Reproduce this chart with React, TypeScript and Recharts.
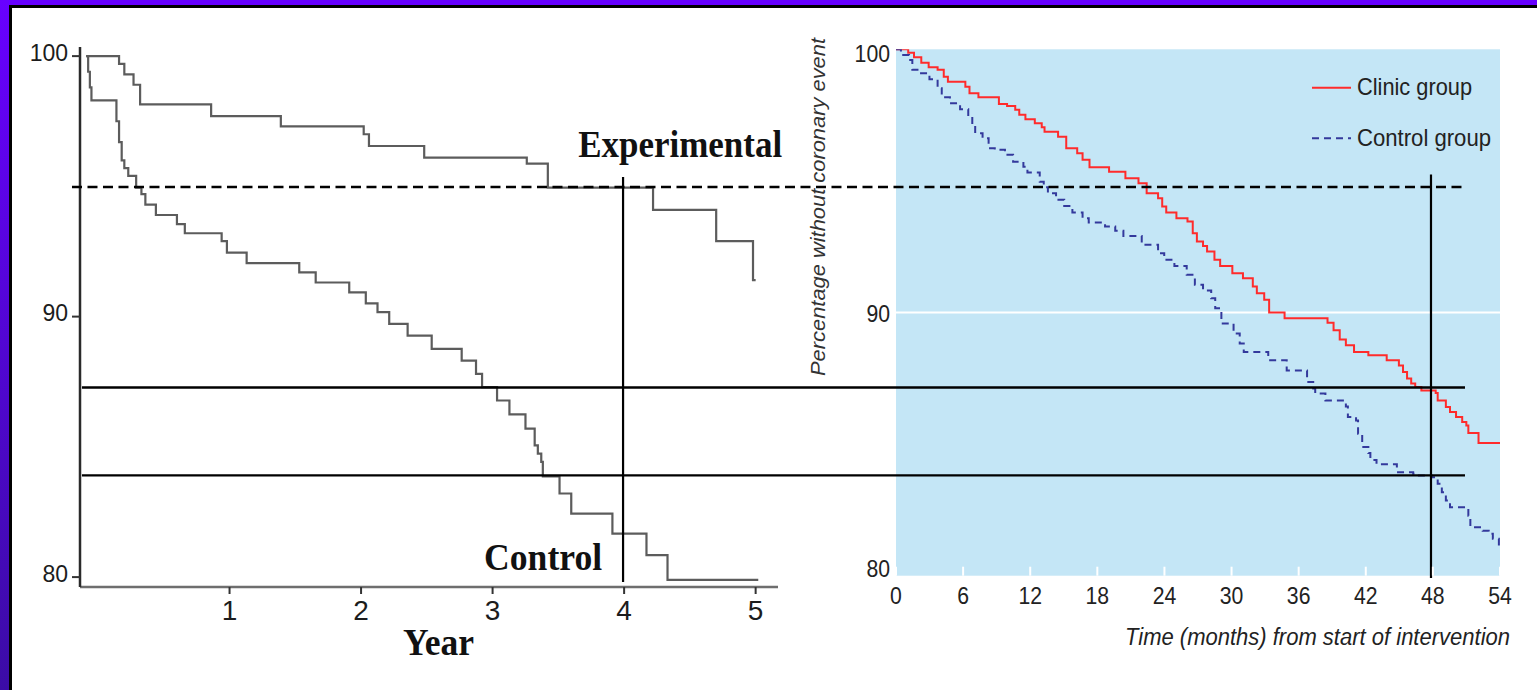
import React from 'react';
import { LineChart, Line, XAxis, YAxis, CartesianGrid, ReferenceLine, ReferenceDot, Legend, Label } from 'recharts';

const W = 1537;
const H = 690;
const SANS = '"Liberation Sans", Arial, Helvetica, sans-serif';
const SERIF = '"Liberation Serif", "Times New Roman", serif';

// ---------- Left panel: survival by year ----------
const expYears = [-0.09, 0.16, 0.2, 0.27, 0.32, 0.86, 1.39, 2.02, 2.06, 2.48, 3.26, 3.42, 4.22, 4.7, 4.98, 5.0];
const expValues = [100, 99.7, 99.3, 98.9, 98.15, 97.7, 97.3, 97.0, 96.55, 96.1, 95.87, 94.95, 94.1, 92.9, 91.4, 91.4];

const ctrlYears = [-0.09, -0.075, -0.062, -0.05, 0.14, 0.16, 0.18, 0.2, 0.23, 0.29, 0.33, 0.36, 0.44, 0.6, 0.66, 0.94, 0.98, 1.13, 1.53, 1.655, 1.91, 2.036, 2.125, 2.214, 2.354, 2.537, 2.765, 2.874, 2.92, 3.034, 3.128, 3.25, 3.32, 3.344, 3.37, 3.382, 3.509, 3.598, 3.911, 4.17, 4.33, 5.02];
const ctrlValues = [100, 99.4, 98.8, 98.3, 97.5, 96.7, 96.0, 95.7, 95.4, 94.95, 94.7, 94.3, 93.9, 93.55, 93.2, 92.9, 92.46, 92.05, 91.7, 91.31, 90.93, 90.51, 90.17, 89.72, 89.27, 88.76, 88.31, 87.8, 87.29, 86.78, 86.25, 85.7, 85.06, 84.74, 84.42, 83.87, 83.21, 82.44, 81.67, 80.84, 79.89, 79.89];

const yearTicks = [1, 2, 3, 4, 5];
const leftPctTicks = [80, 90, 100];
const leftYearDomain = [-0.137, 5.17];
const leftPctDomain = [79.62, 100.35];
const leftMarkYear = 3.992;
const leftMarkRange = [95.36, 79.81];
const expLabelPos = { x: 4.426, y: 96.12 };
const ctrlLabelPos = { x: 3.384, y: 80.27 };

// ---------- Right panel: survival by month ----------
const clinicMonths = [0, 1.09, 1.61, 2.26, 2.92, 3.72, 4.27, 4.64, 6.2, 6.57, 7.37, 9.2, 9.93, 10.66, 11.02, 11.57, 12.41, 13.03, 13.28, 14.49, 15.22, 16.2, 16.68, 17.3, 19.05, 20.51, 21.68, 22.41, 23.43, 23.8, 24.16, 25.07, 26.06, 26.53, 26.9, 27.45, 27.81, 28.47, 28.98, 30.07, 31.02, 31.9, 32.26, 32.92, 33.36, 34.74, 38.58, 39.12, 39.67, 40.22, 40.95, 42.23, 43.87, 44.96, 45.33, 45.69, 46.06, 46.42, 46.97, 48.25, 48.43, 49.16, 49.53, 50.07, 50.62, 50.99, 51.17, 52.08, 54];
const clinicValues = [100, 99.87, 99.7, 99.49, 99.32, 99.22, 98.96, 98.77, 98.58, 98.33, 98.18, 97.92, 97.85, 97.7, 97.51, 97.34, 97.19, 97.04, 96.87, 96.68, 96.24, 96.05, 95.8, 95.52, 95.35, 95.1, 94.91, 94.53, 94.34, 94.03, 93.8, 93.58, 93.46, 93.01, 92.7, 92.53, 92.32, 92.0, 91.77, 91.49, 91.3, 90.99, 90.73, 90.48, 90.0, 89.78, 89.61, 89.33, 88.97, 88.76, 88.5, 88.38, 88.19, 87.99, 87.74, 87.49, 87.3, 87.17, 87.04, 86.94, 86.66, 86.41, 86.22, 86.03, 85.84, 85.71, 85.42, 85.04, 85.04];

const controlMonths = [0, 0.44, 1.17, 1.46, 2.08, 2.99, 3.72, 4.09, 4.82, 5.73, 6.46, 6.82, 7.08, 7.74, 8.28, 8.83, 9.74, 10.47, 11.39, 11.75, 12.85, 13.21, 13.58, 14.31, 15.04, 15.77, 16.68, 17.23, 18.69, 19.6, 20.33, 21.97, 23.43, 23.98, 24.89, 25.99, 26.72, 27.45, 28.18, 28.54, 29.09, 30.18, 30.73, 31.09, 33.28, 34.93, 36.75, 37.3, 37.48, 38.39, 40.22, 40.4, 41.13, 41.31, 41.68, 42.23, 42.41, 42.96, 44.78, 46.24, 46.42, 47.88, 48.43, 48.8, 49.16, 49.53, 51.17, 51.35, 52.45, 52.99, 53.36, 53.9, 54];
const controlValues = [100, 99.78, 99.59, 99.22, 99.09, 98.86, 98.52, 98.18, 97.95, 97.72, 97.44, 97.13, 96.81, 96.62, 96.24, 96.18, 95.99, 95.73, 95.54, 95.32, 94.97, 94.76, 94.53, 94.28, 94.05, 93.8, 93.58, 93.42, 93.27, 93.11, 92.91, 92.57, 92.25, 92.0, 91.77, 91.43, 91.05, 90.84, 90.54, 90.16, 89.58, 89.2, 88.82, 88.5, 88.19, 87.8, 87.36, 87.11, 86.92, 86.66, 86.43, 86.03, 85.9, 85.39, 84.89, 84.66, 84.4, 84.23, 83.93, 83.87, 83.81, 83.74, 83.49, 83.17, 82.86, 82.6, 82.28, 81.84, 81.71, 81.59, 81.4, 81.14, 81.14];

const monthTicks = [0, 6, 12, 18, 24, 30, 36, 42, 48, 54];
const rightPctTicks = [80, 90, 100];
const rightMonthDomain = [0, 54];
const rightPctDomain = [80, 100];

// Overlay comparison lines (in right-panel data units)
const dashedLevel = 94.77;
const dashedSpan = [-73.67, 50.69];
const solidLevels = [87.15, 83.81];
const solidSpan = [-72.78, 50.87];
const rightMarkMonth = 47.83;
const rightMarkRange = [95.24, 79.91];

const zip = (xs: number[], ys: number[]) => xs.map((t, i) => ({ t, v: ys[i] }));
const expData = zip(expYears, expValues);
const ctrlData = zip(ctrlYears, ctrlValues);
const clinicData = zip(clinicMonths, clinicValues);
const controlData = zip(controlMonths, controlValues);

// ---------- tick / label renderers ----------
const LeftXTick = (p: any) => (
  <text x={p.x} y={p.y + 20} textAnchor="middle" fontFamily={SANS} fontSize={28} fill="#1c1c1c">
    {p.payload.value}
  </text>
);

const LeftYTick = (p: any) => (
  <text x={p.x} y={p.y + 4.5} textAnchor="end" fontFamily={SANS} fontSize={23} fill="#1c1c1c">
    {p.payload.value}
  </text>
);

const RightXTick = (p: any) => {
  const s = String(p.payload.value);
  return (
    <g>
      <line x1={p.x} x2={p.x} y1={p.y - 9} y2={p.y} stroke="#ffffff" strokeWidth={2} />
      <text x={p.x} y={p.y + 28.5} textAnchor="middle" fontFamily={SANS} fontSize={23} fill="#222"
        textLength={s.length * 11.8} lengthAdjust="spacingAndGlyphs">{s}</text>
    </g>
  );
};

const RY_DY: Record<number, number> = { 100: 12.4, 90: 9, 80: 1 };
const RightYTick = (p: any) => {
  const s = String(p.payload.value);
  return (
    <text x={p.x} y={p.y + (RY_DY[p.payload.value] ?? 8)} textAnchor="end" fontFamily={SANS} fontSize={23} fill="#222"
      textLength={s.length * 11.8} lengthAdjust="spacingAndGlyphs">{s}</text>
  );
};

const YearLabel = (p: any) => {
  const vb = p.viewBox;
  return (
    <text x={vb.x + 323} y={vb.y + 68} fontFamily={SERIF} fontWeight="bold" fontSize={38} fill="#111"
      textLength={71} lengthAdjust="spacingAndGlyphs">Year</text>
  );
};

const seriesText = (text: string, len: number) => (p: any) => {
  const vb = p.viewBox;
  const cx = vb.x + (vb.width || 0) / 2;
  const cy = vb.y + (vb.height || 0) / 2;
  return (
    <text x={cx} y={cy} textAnchor="middle" fontFamily={SERIF} fontWeight="bold" fontSize={38} fill="#111"
      textLength={len} lengthAdjust="spacingAndGlyphs">{text}</text>
  );
};

const RightXLabel = (p: any) => {
  const vb = p.viewBox;
  return (
    <text x={vb.x + vb.width + 10} y={vb.y + 69.3} textAnchor="end" fontFamily={SANS} fontStyle="italic" fontSize={23}
      fill="#222" textLength={385} lengthAdjust="spacingAndGlyphs">Time (months) from start of intervention</text>
  );
};

const RightYLabel = (p: any) => {
  const vb = p.viewBox;
  const cx = vb.x - 49;
  const cy = vb.y + vb.height / 2 - 105.5;
  return (
    <text x={cx} y={cy} transform={`rotate(-90 ${cx} ${cy})`} textAnchor="middle" dominantBaseline="central"
      fontFamily={SANS} fontStyle="italic" fontSize={21} fill="#333" textLength={338} lengthAdjust="spacingAndGlyphs">
      Percentage without coronary event
    </text>
  );
};

const LEG_LINE_Y = [27.7, 78.3];
const LEG_TEXT_Y = [35, 86];
const LEG_TEXT_LEN: Record<string, number> = { 'Clinic group': 115, 'Control group': 134 };
const renderLegend = (props: any) => {
  const items = props.payload || [];
  return (
    <svg width={220} height={100} style={{ display: 'block' }}>
      {items.map((it: any, i: number) => (
        <g key={i}>
          <line x1={7} x2={46} y1={LEG_LINE_Y[i]} y2={LEG_LINE_Y[i]} stroke={it.color} strokeWidth={2}
            strokeDasharray={it.payload && it.payload.strokeDasharray} />
          <text x={52} y={LEG_TEXT_Y[i]} fontFamily={SANS} fontSize={24} fill="#222"
            textLength={LEG_TEXT_LEN[it.value] || 120} lengthAdjust="spacingAndGlyphs">{it.value}</text>
        </g>
      ))}
    </svg>
  );
};

export default function App() {
  return (
    <div style={{ position: 'absolute', left: 0, top: 0, width: W, height: H, overflow: 'hidden', background: '#ffffff' }}>
      {/* frame */}
      <div style={{ position: 'absolute', left: 0, top: 0, width: W, height: 5, background: '#6600ff' }} />
      <div style={{ position: 'absolute', left: 0, top: 0, width: 9, height: H, background: 'linear-gradient(#6800ff, #3b0ca6)' }} />
      <div style={{ position: 'absolute', left: 9, top: 5, width: W - 9, height: 3, background: '#000' }} />
      <div style={{ position: 'absolute', left: 9, top: 5, width: 3, height: H - 5, background: '#000' }} />

      {/* left chart */}
      <div style={{ position: 'absolute', left: 0, top: 0 }}>
        <LineChart width={W} height={H} margin={{ top: 47, right: 759, bottom: 63, left: 20 }}>
          <XAxis type="number" dataKey="t" domain={leftYearDomain} allowDataOverflow ticks={yearTicks} height={40}
            axisLine={{ stroke: '#6e6e6e', strokeWidth: 2.5 }} tickLine={{ stroke: '#333', strokeWidth: 2 }}
            tickSize={7} tickMargin={6} tick={LeftXTick}>
            <Label content={YearLabel} />
          </XAxis>
          <YAxis type="number" domain={leftPctDomain} allowDataOverflow ticks={leftPctTicks} width={60}
            axisLine={{ stroke: '#2a2a2a', strokeWidth: 2.5 }} tickLine={{ stroke: '#333', strokeWidth: 2 }}
            tickSize={8} tickMargin={4} tick={LeftYTick} />
          <Line data={expData} dataKey="v" name="Experimental" type="stepAfter" stroke="#5c5c5c" strokeWidth={2.2}
            dot={false} activeDot={false} isAnimationActive={false} />
          <Line data={ctrlData} dataKey="v" name="Control" type="stepAfter" stroke="#5c5c5c" strokeWidth={2.2}
            dot={false} activeDot={false} isAnimationActive={false} />
          <ReferenceLine segment={[{ x: leftMarkYear, y: leftMarkRange[0] }, { x: leftMarkYear, y: leftMarkRange[1] }]}
            stroke="#000" strokeWidth={2.2} ifOverflow="visible" />
          <ReferenceDot x={expLabelPos.x} y={expLabelPos.y} r={0} fill="none" stroke="none"
            label={seriesText('Experimental', 204)} />
          <ReferenceDot x={ctrlLabelPos.x} y={ctrlLabelPos.y} r={0} fill="none" stroke="none"
            label={seriesText('Control', 118)} />
        </LineChart>
      </div>

      {/* right chart (on top, carries the comparison lines) */}
      <div style={{ position: 'absolute', left: 0, top: 0 }}>
        <LineChart width={W} height={H} margin={{ top: 49.3, right: 37, bottom: 54.3, left: 866 }}>
          <CartesianGrid fill="#c4e6f6" horizontal={false} vertical={false} stroke="none" />
          <XAxis type="number" dataKey="t" domain={rightMonthDomain} allowDataOverflow ticks={monthTicks} height={60}
            axisLine={false} tickLine={false} tickSize={0} tickMargin={0} tick={RightXTick}>
            <Label content={RightXLabel} />
          </XAxis>
          <YAxis type="number" domain={rightPctDomain} allowDataOverflow ticks={rightPctTicks} width={30}
            axisLine={false} tickLine={false} tickSize={0} tickMargin={6} tick={RightYTick}>
            <Label content={RightYLabel} />
          </YAxis>
          <ReferenceLine y={90} stroke="#ffffff" strokeWidth={2} ifOverflow="visible" />
          <Line data={clinicData} dataKey="v" name="Clinic group" type="stepAfter" stroke="#ff2b2b" strokeWidth={2}
            dot={false} activeDot={false} isAnimationActive={false} />
          <Line data={controlData} dataKey="v" name="Control group" type="stepAfter" stroke="#33399c" strokeWidth={2}
            strokeDasharray="7 5" dot={false} activeDot={false} isAnimationActive={false} />
          <ReferenceLine segment={[{ x: dashedSpan[0], y: dashedLevel }, { x: dashedSpan[1], y: dashedLevel }]}
            stroke="#000" strokeWidth={2.4} strokeDasharray="10 5.5" ifOverflow="visible" />
          {solidLevels.map((lv, i) => (
            <ReferenceLine key={i} segment={[{ x: solidSpan[0], y: lv }, { x: solidSpan[1], y: lv }]}
              stroke="#000" strokeWidth={2.4} ifOverflow="visible" />
          ))}
          <ReferenceLine segment={[{ x: rightMarkMonth, y: rightMarkRange[0] }, { x: rightMarkMonth, y: rightMarkRange[1] }]}
            stroke="#000" strokeWidth={2.2} ifOverflow="visible" />
          <Legend content={renderLegend} layout="horizontal" verticalAlign="middle" align="center"
            wrapperStyle={{ position: 'absolute', left: 1305, top: 60, width: 220, height: 100 }} />
        </LineChart>
      </div>
    </div>
  );
}
